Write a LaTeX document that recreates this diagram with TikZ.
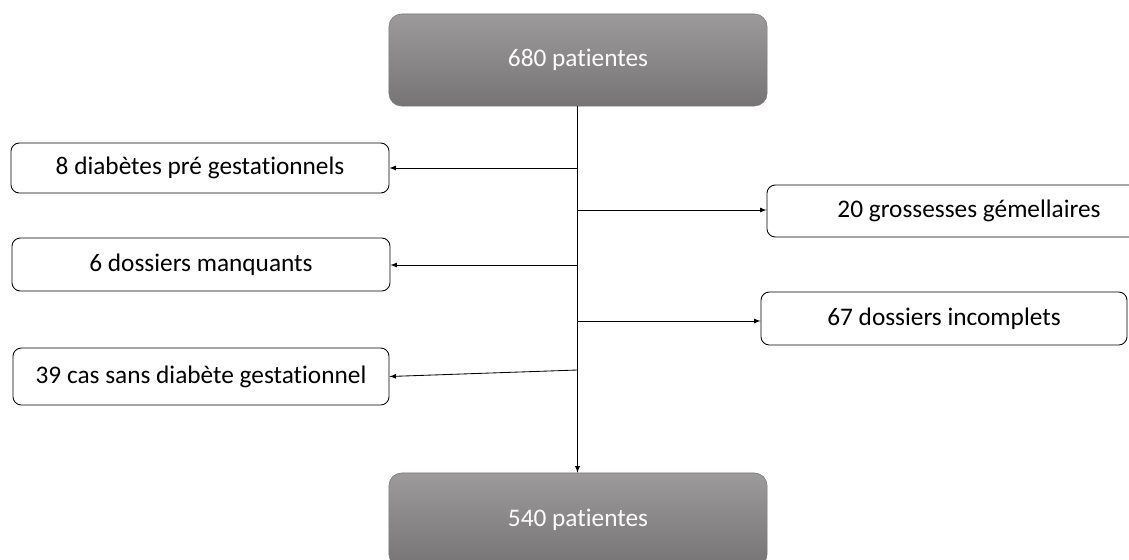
\documentclass[tikz,border=0pt]{standalone}
\usepackage{fontspec}
\setmainfont[RawFeature = {-liga,-calt,-clig}]{Carlito}
\usetikzlibrary{positioning, calc}
\definecolor{greytop}{RGB}{156,154,154}
\definecolor{greybot}{RGB}{118,116,116}
\definecolor{greyline}{RGB}{120,120,120}

\begin{document}
\begin{tikzpicture}[
          x = 0.025cm, y = -0.025cm,
          inner sep = 0, font = \fontsize{18}{22}\selectfont
        ]
          \tikzstyle {total} = [draw = greyline, line width = 0.4pt, rounded corners = 9pt, top color = greytop, bottom color = greybot, text = white, minimum width = 9.45cm, minimum height = 2.3cm]
          \tikzstyle {excluded} = [draw, line width = 0.6pt, rounded corners = 6pt, fill = white, minimum height = 1.3cm]
          \clip (0,0) rectangle (1129,559);
          \fill [white] (0,0) rectangle (1129,559);
          % place nodes
          \path node (680) [total] at (578,60) {680 patientes};
          \path node (540) [total, minimum height = 2.35cm] at (578,520) {540 patientes};
          \path node (diab) [excluded, minimum width = 9.45cm, minimum height = 1.25cm] at (200,168) {8 diabètes pré gestationnels};
          \path node (manq) [excluded, minimum width = 9.45cm, minimum height = 1.325cm] at (201,264.5) {6 dossiers manquants};
          \path node (sans) [excluded, minimum width = 9.4cm, minimum height = 1.425cm] at (201,376.5) {39 cas sans diabète gestationnel};
          \path node (gem) [excluded, minimum width = 10.1cm, minimum height = 1.3cm] at (969,211) {20 grossesses gémellaires};
          \path node (inc) [excluded, minimum width = 9.15cm, minimum height = 1.325cm] at (944,318.5) {67 dossiers incomplets};
          % place edges
          \coordinate (s1) at (577.5,168);
          \coordinate (s2) at (577.5,210);
          \coordinate (s3) at (577.5,265);
          \coordinate (s4) at (577.5,321);
          \coordinate (s5) at (577.5,370);
          \draw [-latex, line width = 0.6pt] (680.south -| s1) -- (540.north -| s1);
          \draw [-latex, line width = 0.6pt] (s1) -- (s1 -| diab.east);
          \draw [-latex, line width = 0.6pt] (s2) -- (s2 -| gem.west);
          \draw [-latex, line width = 0.6pt] (s3) -- (s3 -| manq.east);
          \draw [-latex, line width = 0.6pt] (s4) -- (s4 -| inc.west);
          \draw [-latex, line width = 0.6pt] (s5) -- (sans.east);
        \end{tikzpicture}
\end{document}
